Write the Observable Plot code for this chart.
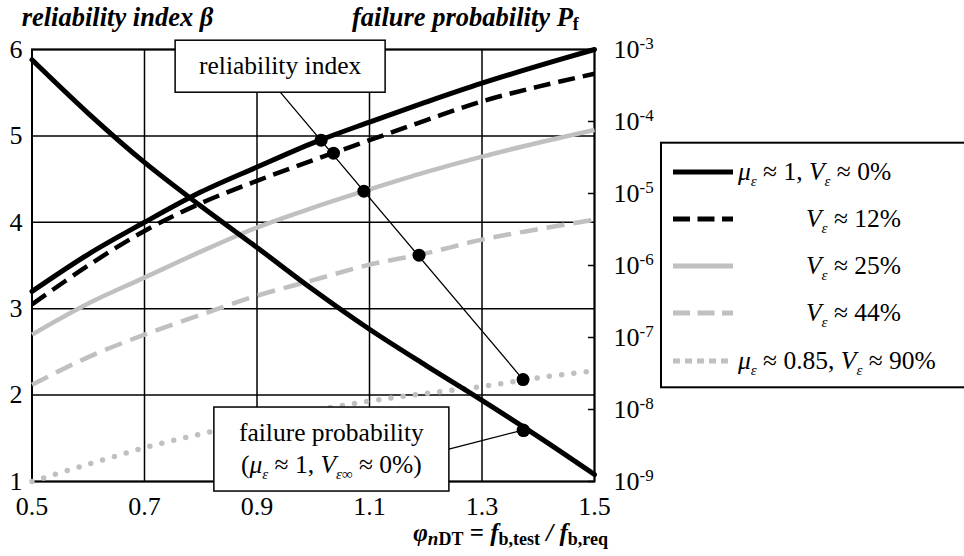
<!DOCTYPE html>
<html><head><meta charset="utf-8">
<script src="https://cdn.jsdelivr.net/npm/d3@7"></script>
<script src="https://cdn.jsdelivr.net/npm/@observablehq/plot@0.6"></script>
<style>
body{margin:0;background:#fff}
#c{position:relative;width:964px;height:556px;overflow:hidden}
#c svg{position:absolute;left:0;top:0}
#c svg text{font-family:"Liberation Serif","Times New Roman",Times,"DejaVu Serif",serif}
</style>
</head><body><div id="c"></div>
<script>
// ---------- data ----------
const phi = [0.5, 0.6, 0.7, 0.8, 0.9, 1.0, 1.1, 1.2, 1.3, 1.4, 1.5];
const betaV0  = [3.20, 3.63, 4.00, 4.35, 4.64, 4.92, 5.16, 5.39, 5.61, 5.81, 6.00];
const betaV12 = [3.05, 3.50, 3.90, 4.22, 4.48, 4.72, 4.95, 5.18, 5.40, 5.57, 5.72];
const betaV25 = [2.70, 3.06, 3.36, 3.66, 3.94, 4.17, 4.38, 4.58, 4.76, 4.92, 5.07];
const betaV44 = [2.12, 2.44, 2.70, 2.93, 3.15, 3.33, 3.51, 3.64, 3.80, 3.92, 4.03];
const betaV90 = [1.00, 1.20, 1.39, 1.55, 1.69, 1.82, 1.93, 2.02, 2.10, 2.20, 2.28];
const pfV0 = [7.2e-4, 1.3e-4, 2.7e-5, 6.7e-6, 1.78e-6, 4.6e-7, 1.3e-7, 4.1e-8, 1.34e-8, 4.2e-9, 1.25e-9];

const xTicks = [0.5, 0.7, 0.9, 1.1, 1.3, 1.5];
const betaTicks = [1, 2, 3, 4, 5, 6];
const pfTicks = [1e-9, 1e-8, 1e-7, 1e-6, 1e-5, 1e-4, 1e-3];

const relDotPhi  = [1.014, 1.036, 1.090, 1.188, 1.373];
const relDotBeta = [4.95, 4.80, 4.36, 3.62, 2.18];
const relLinePhi  = [0.942, 1.373];
const relLineBeta = [5.50, 2.18];
const pfDotPhi = [1.374];
const pfDotValue = [5.1e-9];

const legendLabels = ["μ_ε ≈ 1, V_ε ≈ 0%", "V_ε ≈ 12%", "V_ε ≈ 25%", "V_ε ≈ 44%", "μ_ε ≈ 0.85, V_ε ≈ 90%"];
const boxRelText = "reliability index";
const boxPfLines = ["failure probability", "(μ_ε ≈ 1, V_{ε∞} ≈ 0%)"];

// ---------- styles ----------
const GRAY = "#c0c0c0";
const seriesStyle = [
  {vals: betaV0,  stroke: "#000", strokeWidth: 5,   dash: null,   cap: "round"},
  {vals: betaV12, stroke: "#000", strokeWidth: 4.5, dash: "17 8", cap: "butt"},
  {vals: betaV25, stroke: GRAY,   strokeWidth: 4.5, dash: null,   cap: "butt"},
  {vals: betaV44, stroke: GRAY,   strokeWidth: 4.5, dash: "18 9", cap: "butt"},
  {vals: betaV90, stroke: GRAY,   strokeWidth: 5.5, dash: "0 12.3", cap: "round"}
];
const legendStyle = [
  {stroke: "#000", w: 5, dash: null},
  {stroke: "#000", w: 5, dash: "17 7.5"},
  {stroke: GRAY, w: 5, dash: null},
  {stroke: GRAY, w: 5, dash: "17 7.5"},
  {stroke: GRAY, w: 5, dash: "7 5"}
];

const FONT = "'Liberation Serif', 'Times New Roman', Times, 'DejaVu Serif', serif";
const common = {
  width: 964, height: 556,
  marginLeft: 31.5, marginRight: 370, marginTop: 49, marginBottom: 75,
  style: {fontFamily: FONT, fontSize: "26px", background: "none", overflow: "visible", color: "#000"}
};

// ---------- plot 1 : reliability index ----------
const p1 = Plot.plot({
  ...common,
  x: {domain: [0.5, 1.5]},
  y: {domain: [1, 6]},
  marks: [
    Plot.gridX(xTicks, {stroke: "#000", strokeOpacity: 1, strokeWidth: 1.5}),
    Plot.gridY(betaTicks, {stroke: "#000", strokeOpacity: 1, strokeWidth: 1.5}),
    Plot.frame({stroke: "#000", strokeWidth: 2}),
    Plot.axisX({ticks: xTicks, tickSize: 0, tickPadding: 15, tickFormat: d3.format(".1f"), label: null}),
    Plot.axisY({ticks: betaTicks, tickSize: 0, tickPadding: 9.5, tickFormat: d => String(d), label: null}),
    ...seriesStyle.map(s => Plot.line(phi.map((x, i) => ({x, y: s.vals[i]})), {
      x: "x", y: "y", stroke: s.stroke, strokeWidth: s.strokeWidth,
      strokeDasharray: s.dash, strokeLinecap: s.cap, curve: "catmull-rom"
    })),
    Plot.line(relLinePhi.map((x, i) => ({x, y: relLineBeta[i]})), {x: "x", y: "y", stroke: "#000", strokeWidth: 1.3}),
    Plot.dot(relDotPhi.map((x, i) => ({x, y: relDotBeta[i]})), {x: "x", y: "y", r: 6.5, fill: "#000", stroke: null})
  ]
});

// ---------- plot 2 : failure probability (log, right axis) ----------
const p2 = Plot.plot({
  ...common,
  x: {domain: [0.5, 1.5], axis: null},
  y: {type: "log", domain: [1e-9, 1e-3]},
  marks: [
    Plot.axisY({anchor: "right", ticks: pfTicks, tickSize: 7, dx: -7, tickFormat: () => "", label: null, strokeWidth: 1.5}),
    Plot.axisY({anchor: "right", ticks: pfTicks, tickSize: 0, tickPadding: 19,
      tickFormat: d => "10^" + Math.round(Math.log10(d)), label: null}),
    Plot.line(phi.map((x, i) => ({x, y: pfV0[i]})), {x: "x", y: "y", stroke: "#000", strokeWidth: 5, strokeLinecap: "round", curve: "catmull-rom"}),
    Plot.dot(pfDotPhi.map((x, i) => ({x, y: pfDotValue[i]})), {x: "x", y: "y", r: 6.5, fill: "#000", stroke: null})
  ]
});

const c = document.getElementById("c");
c.appendChild(p1);
c.appendChild(p2);

const svg = d3.select(p2);
const sx = p1.scale("x"), sy = p1.scale("y"), sp = p2.scale("y");

// superscripts on right-axis labels
svg.selectAll('g[aria-label="y-axis tick label"] text').each(function() {
  const s = this.textContent;
  if (!s.includes("^")) return;
  const [b, e] = s.split("^");
  const t = d3.select(this);
  t.text(null);
  t.append("tspan").text(b);
  t.append("tspan").attr("dy", -9).attr("font-size", 17).text(e);
});

// rich text helper
function rich(parent, x, y, runs, anchor, size) {
  const t = parent.append("text").attr("x", x).attr("y", y)
    .attr("text-anchor", anchor || "start").attr("font-family", FONT)
    .attr("font-size", size || 25.5).attr("fill", "#000");
  let cur = 0;
  runs.forEach(r => {
    const ts = t.append("tspan").text(r.t);
    const off = r.off || 0;
    if (off !== cur) ts.attr("dy", off - cur);
    cur = off;
    if (r.i) ts.attr("font-style", "italic");
    if (r.b) ts.attr("font-weight", "bold");
    if (r.fs) ts.attr("font-size", r.fs);
  });
  return t;
}
function parseLabel(s) {
  const runs = [];
  let i = 0, buf = "";
  const flush = () => { if (buf) { runs.push({t: buf}); buf = ""; } };
  while (i < s.length) {
    const ch = s[i];
    if (ch === "μ" || ch === "V") { flush(); runs.push({t: ch, i: true}); i++; }
    else if (ch === "_") {
      flush();
      let sub;
      if (s[i + 1] === "{") { const j = s.indexOf("}", i); sub = s.slice(i + 2, j); i = j + 1; }
      else { sub = s[i + 1]; i += 2; }
      runs.push({t: sub, i: true, off: 6, fs: 15});
    } else { buf += ch; i++; }
  }
  flush();
  return runs;
}

// titles
rich(svg, 21.7, 26, [{t: "reliability index β", b: true, i: true}], "start", 26.5);
rich(svg, 352, 26, [{t: "failure probability ", b: true, i: true}, {t: "P", b: true, i: true}, {t: "f", b: true, off: 4, fs: 18}], "start", 26.5);
rich(svg, 608, 541, [
  {t: "φ", b: true, i: true},
  {t: "n", b: true, i: true, off: 4, fs: 19}, {t: "DT", b: true, off: 4, fs: 18},
  {t: " = ", b: true},
  {t: "f", b: true, i: true},
  {t: "b,test", b: true, off: 4, fs: 18},
  {t: " / ", b: true, i: true},
  {t: "f", b: true, i: true},
  {t: "b,req", b: true, off: 4, fs: 18}
], "end", 25);

// annotation box: reliability index
{
  const cx = sx.apply(relLinePhi[0]), bottom = sy.apply(relLineBeta[0]);
  const w = 210, h = 52;
  svg.append("rect").attr("x", cx - w / 2).attr("y", bottom - h).attr("width", w).attr("height", h)
    .attr("fill", "#fff").attr("stroke", "#000").attr("stroke-width", 1.5);
  rich(svg, cx, bottom - h / 2 + 8, [{t: boxRelText}], "middle");
}
// annotation box: failure probability
{
  const dx = sx.apply(pfDotPhi[0]), dy = sp.apply(pfDotValue[0]);
  const w = 235, h = 84;
  const right = sx.apply(1.242), cy = sy.apply(1.37);
  svg.append("line").attr("x1", right).attr("y1", cy).attr("x2", dx).attr("y2", dy)
    .attr("stroke", "#000").attr("stroke-width", 1.3);
  svg.append("rect").attr("x", right - w).attr("y", cy - h / 2).attr("width", w).attr("height", h)
    .attr("fill", "#fff").attr("stroke", "#000").attr("stroke-width", 1.5);
  rich(svg, right - w / 2, cy - 8, [{t: boxPfLines[0]}], "middle");
  rich(svg, right - w / 2, cy + 24, parseLabel(boxPfLines[1]), "middle");
  svg.append("circle").attr("cx", dx).attr("cy", dy).attr("r", 6.5).attr("fill", "#000");
}

// legend
{
  const g = svg.append("g");
  g.append("rect").attr("x", 661).attr("y", 142.7).attr("width", 320).attr("height", 244.6)
    .attr("fill", "#fff").attr("stroke", "#000").attr("stroke-width", 2);
  const ys = [172, 219, 266, 313, 361];
  const tx = [738, 806, 806, 806, 738];
  legendLabels.forEach((lab, i) => {
    const st = legendStyle[i];
    g.append("line").attr("x1", 673).attr("x2", 733).attr("y1", ys[i]).attr("y2", ys[i])
      .attr("stroke", st.stroke).attr("stroke-width", st.w).attr("stroke-dasharray", st.dash);
    rich(g, tx[i], ys[i] + 8, parseLabel(lab));
  });
}
</script></body></html>
